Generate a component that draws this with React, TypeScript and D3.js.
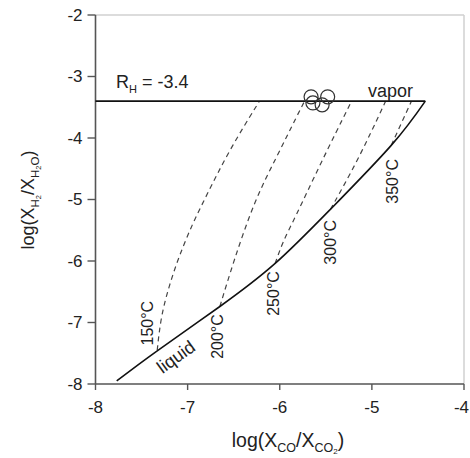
import { line, curveBasis, curveNatural, scaleLinear } from "d3";

// liquid (boiling) curve
const liquidX = [-7.77, -7.33, -6.65, -6.05, -5.45, -4.79, -4.42];
const liquidY = [-7.95, -7.46, -6.74, -6.04, -5.16, -4.12, -3.4];

// vapor line, R_H = -3.4
const vaporX = [-8, -4.42];
const vaporY = [-3.4, -3.4];

// isotherms, dashed
const isoLabels = ["150°C", "200°C", "250°C", "300°C", "350°C"];
const isoX = [
  [-7.33, -7.29, -7.2, -7.1, -6.95, -6.8, -6.55, -6.22],
  [-6.65, -6.5, -6.27, -6.03, -5.8, -5.73],
  [-6.05, -5.96, -5.85, -5.55, -5.22],
  [-5.45, -5.16, -4.85],
  [-4.79, -4.57]
];
const isoY = [
  [-7.45, -6.9, -6.4, -5.95, -5.4, -4.95, -4.2, -3.4],
  [-6.74, -6.0, -5.0, -4.3, -3.6, -3.4],
  [-6.04, -5.66, -5.35, -4.39, -3.4],
  [-5.16, -4.39, -3.4],
  [-4.12, -3.4]
];

// sample circles near the vapor line
const sampleX = [-5.66, -5.48, -5.54, -5.64];
const sampleY = [-3.33, -3.33, -3.46, -3.43];

const xTicks = [-8, -7, -6, -5, -4];
const yTicks = [-2, -3, -4, -5, -6, -7, -8];

const width = 470;
const height = 458;
const left = 95.5;
const right = 464;
const top = 15;
const bottom = 384;
const font = "'Liberation Sans', Arial, sans-serif";

// label offsets from the point where each isotherm meets the liquid curve
const labelOffsets = [
  [-10, -27],
  [-2, 30],
  [-2, 30],
  [0, 33],
  [1, 36]
];

function App() {
  const x = scaleLinear().domain([-8, -4]).range([left, right]);
  const y = scaleLinear().domain([-8, -2]).range([bottom, top]);

  const smooth = line<[number, number]>()
    .x((d) => x(d[0]))
    .y((d) => y(d[1]))
    .curve(curveNatural);

  const dashed = line<[number, number]>()
    .x((d) => x(d[0]))
    .y((d) => y(d[1]))
    .curve(curveBasis);

  const pts = (xs: number[], ys: number[]) =>
    xs.map((v, i) => [v, ys[i]] as [number, number]);

  return (
    <svg
      width={width}
      height={height}
      style={{ position: "absolute", left: 0, top: 0, background: "#fff" }}
      fontFamily={font}
    >
      {/* frame */}
      <line x1={left} x2={right} y1={top} y2={top} stroke="#d0d0d0" strokeWidth={1.5} />
      <line x1={right} x2={right} y1={top} y2={bottom} stroke="#d0d0d0" strokeWidth={1.5} />
      <line x1={left} x2={left} y1={top} y2={bottom} stroke="#555" strokeWidth={1.6} />
      <line x1={left} x2={right} y1={bottom} y2={bottom} stroke="#555" strokeWidth={1.6} />

      {yTicks.map((t) => (
        <g key={`y${t}`}>
          <line x1={left - 8} x2={left} y1={y(t)} y2={y(t)} stroke="#555" strokeWidth={1.4} />
          <text
            x={left - 13}
            y={y(t)}
            textAnchor="end"
            dominantBaseline="central"
            fontSize={17}
            fill="#222"
          >
            {t}
          </text>
        </g>
      ))}
      {xTicks.map((t, i) => {
        // the last label sits against the page edge
        const last = i === xTicks.length - 1;
        return (
          <g key={`x${t}`}>
            <line x1={x(t)} x2={x(t)} y1={bottom} y2={bottom + 6} stroke="#555" strokeWidth={1.4} />
            <text
              x={last ? width - 1 : x(t)}
              y={bottom + 23}
              textAnchor={last ? "end" : "middle"}
              dominantBaseline="central"
              fontSize={17}
              fill="#222"
            >
              {t}
            </text>
          </g>
        );
      })}

      {/* isotherms */}
      {isoX.map((xs, i) => (
        <path
          key={`iso${i}`}
          d={dashed(pts(xs, isoY[i])) ?? ""}
          fill="none"
          stroke="#444"
          strokeWidth={1.2}
          strokeDasharray="5,4"
        />
      ))}

      <path d={smooth(pts(vaporX, vaporY)) ?? ""} fill="none" stroke="#111" strokeWidth={1.6} />
      <path d={smooth(pts(liquidX, liquidY)) ?? ""} fill="none" stroke="#111" strokeWidth={1.6} />

      {sampleX.map((v, i) => (
        <circle
          key={`s${i}`}
          cx={x(v)}
          cy={y(sampleY[i])}
          r={7}
          fill="none"
          stroke="#333"
          strokeWidth={1.2}
        />
      ))}

      {isoLabels.map((label, i) => {
        const cx = x(isoX[i][0]) + labelOffsets[i][0];
        const cy = y(isoY[i][0]) + labelOffsets[i][1];
        return (
          <text
            key={label}
            transform={`translate(${cx},${cy}) rotate(-90)`}
            textAnchor="middle"
            dominantBaseline="central"
            fontSize={16}
            fill="#222"
          >
            {label}
          </text>
        );
      })}

      <text
        transform={`translate(176,357) rotate(-36)`}
        textAnchor="middle"
        dominantBaseline="central"
        fontSize={18}
        fill="#222"
      >
        liquid
      </text>
      <text x={368} y={97} fontSize={18} fill="#222">
        vapor
      </text>
      <text x={116} y={88} fontSize={18} fill="#222">
        R<tspan fontSize={11} dy={5}>H</tspan>
        <tspan dy={-5}> = -3.4</tspan>
      </text>

      {/* axis titles */}
      <text x={288} y={447} textAnchor="middle" fontSize={19.5} fill="#222">
        log(X<tspan fontSize={12.5} dy={5}>CO</tspan>
        <tspan dy={-5}>/X</tspan>
        <tspan fontSize={12.5} dy={5}>CO</tspan>
        <tspan fontSize={8} dy={2}>2</tspan>
        <tspan dy={-7}>)</tspan>
      </text>
      <text
        transform={`translate(34,200) rotate(-90)`}
        textAnchor="middle"
        fontSize={18}
        fill="#222"
      >
        log(X<tspan fontSize={11.5} dy={5}>H</tspan>
        <tspan fontSize={7.5} dy={2}>2</tspan>
        <tspan dy={-7}>/X</tspan>
        <tspan fontSize={11.5} dy={5}>H</tspan>
        <tspan fontSize={7.5} dy={2}>2</tspan>
        <tspan fontSize={11.5} dy={-2}>O</tspan>
        <tspan dy={-5}>)</tspan>
      </text>
    </svg>
  );
}

export default App;
